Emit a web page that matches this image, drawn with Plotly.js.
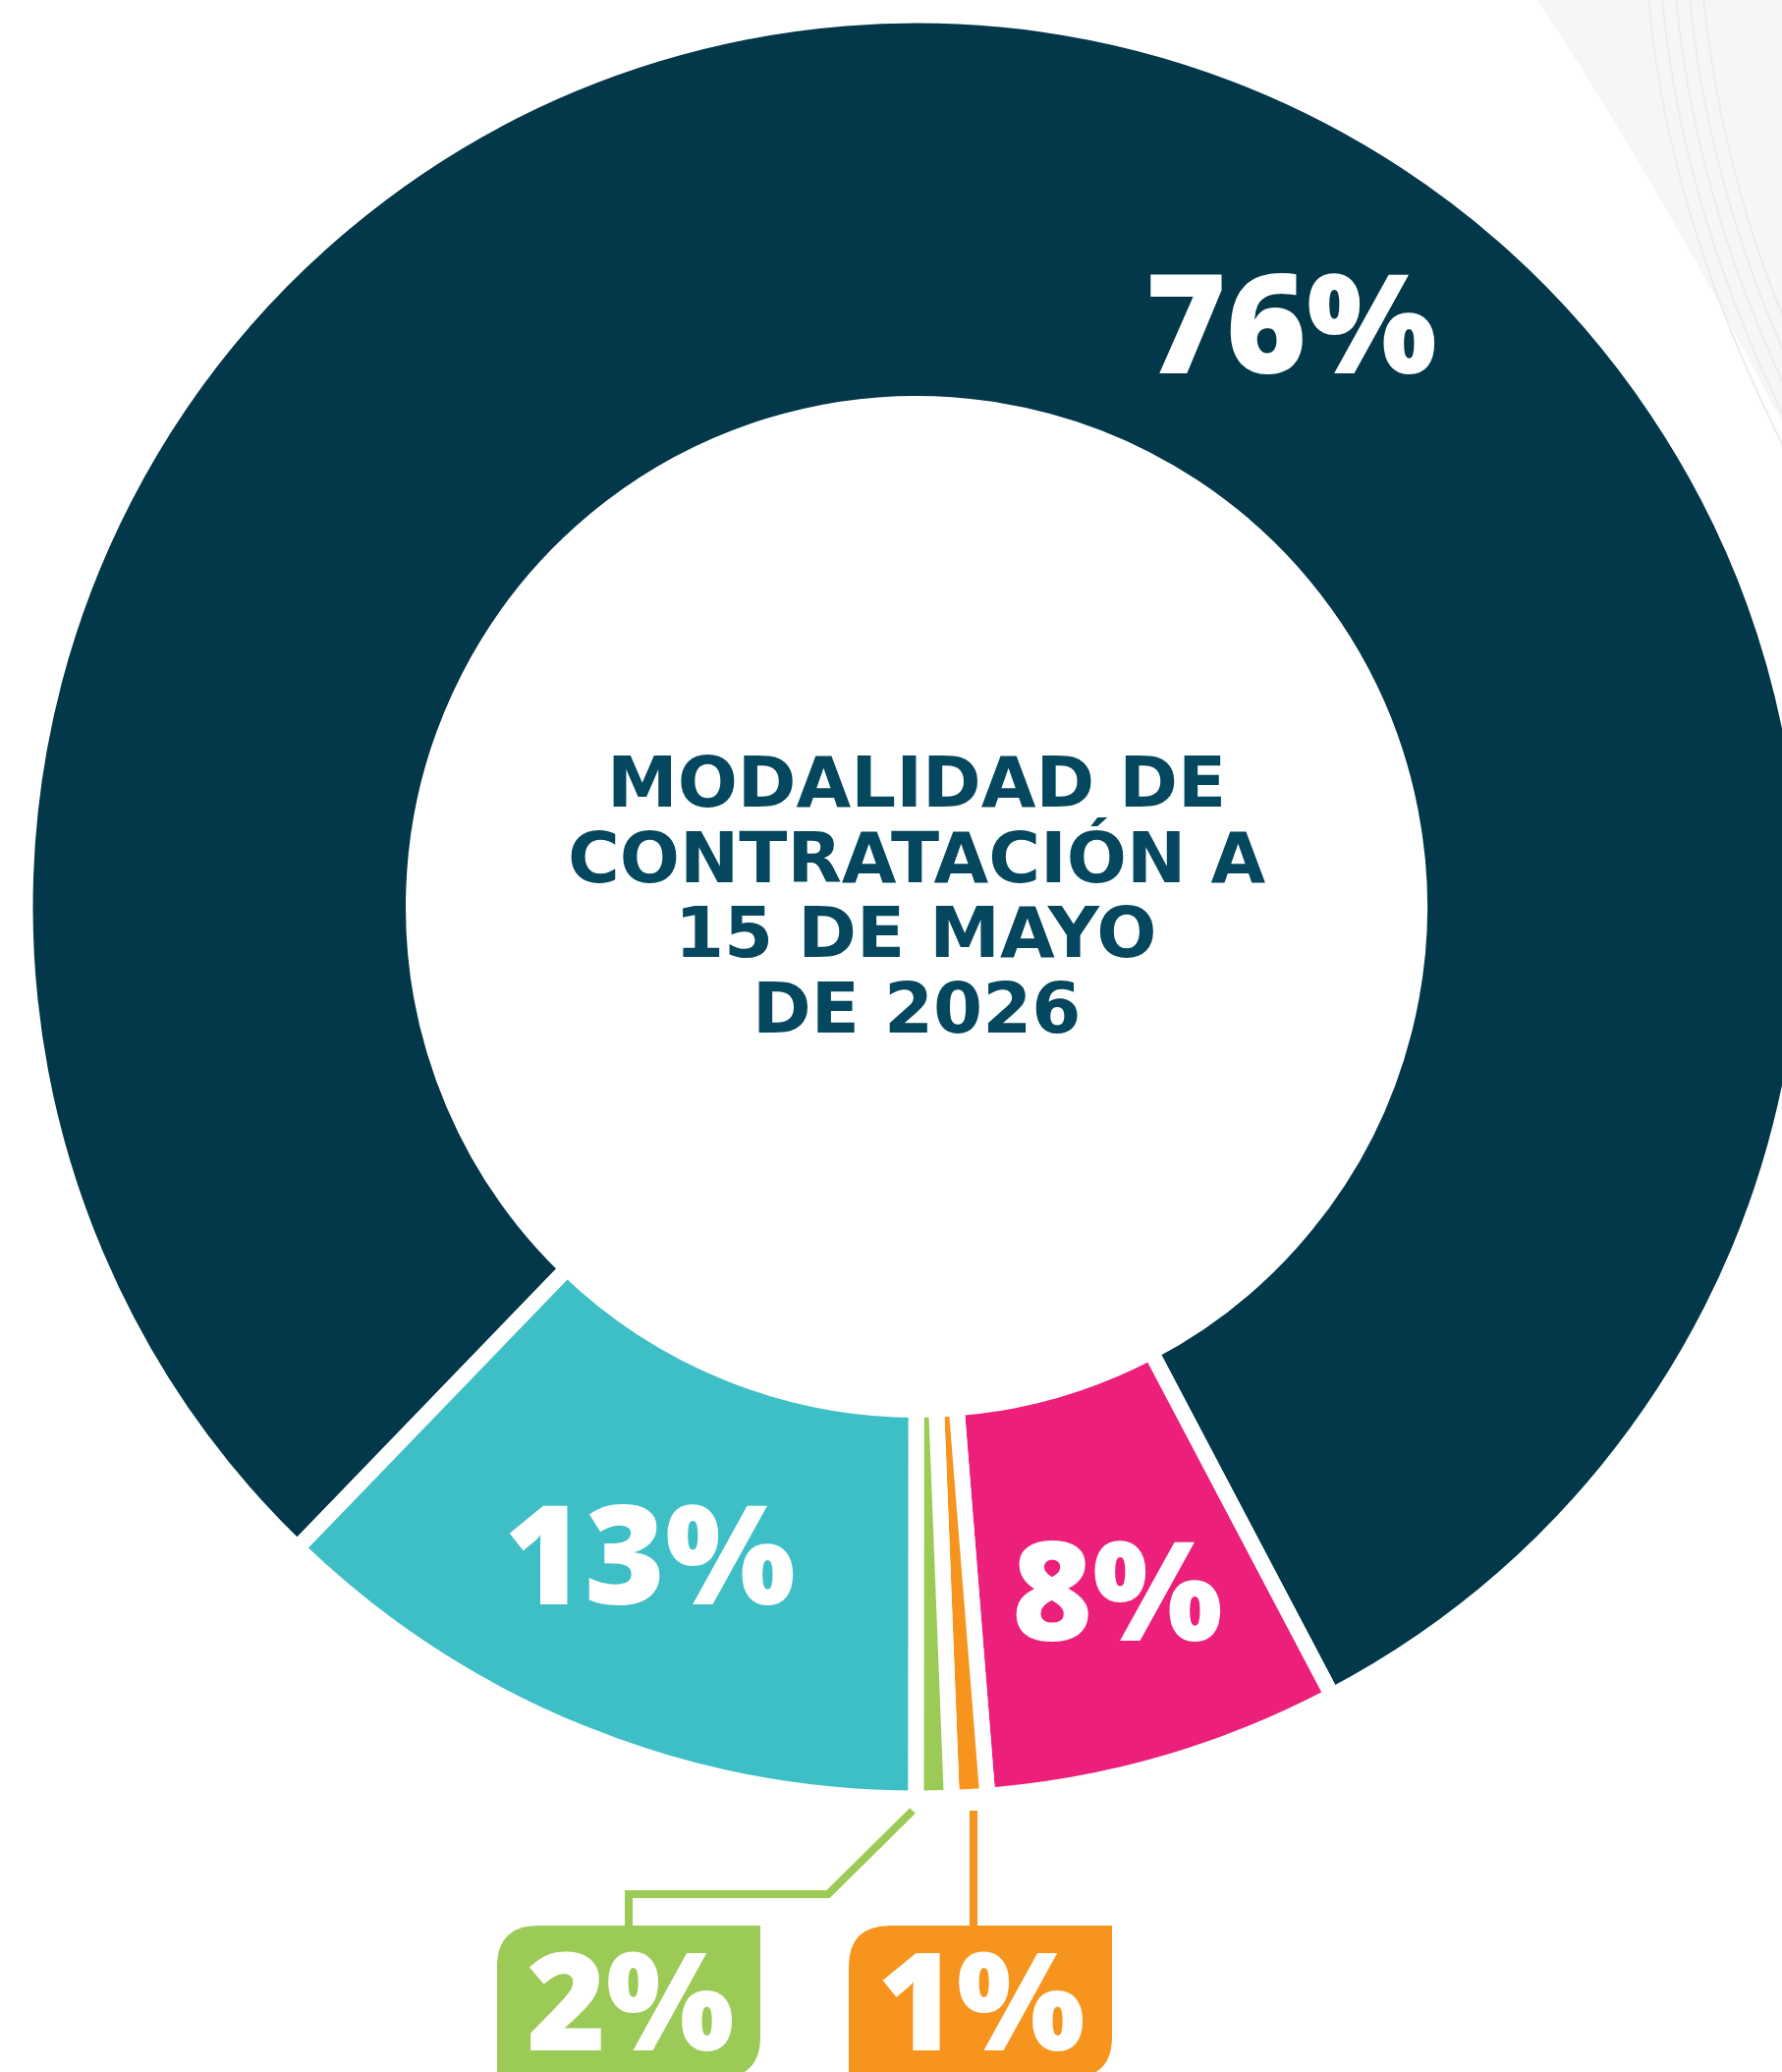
<!DOCTYPE html>
<html><head><meta charset="utf-8">
<script src="https://cdn.plot.ly/plotly-3.0.1.min.js"></script>
<style>html,body{margin:0;padding:0;overflow:hidden;background:#fff}#chart{width:1850px;height:2109px}</style>
</head><body><div id="chart"></div>
<script>
// ---------------- data ----------------
// slices in clockwise order, starting at the dark slice
const printedLabels = ['76%', '8%', '1%', '2%', '13%'];
const printedValues = [76, 8, 1, 2, 13];
// share of the ring as drawn in the picture
const ringShare = [80.06, 6.45, 0.64, 0.64, 12.21];
const centerTitleLines = ['MODALIDAD DE', 'CONTRATACIÓN A', '15 DE MAYO', 'DE 2026'];

// ---------------- style / layout ----------------
const W = 1850, H = 2109;
const X = v => v / W, Y = v => 1 - v / H;
const sliceColors = ['#02384a', '#ec1f7b', '#f7941e', '#9bca57', '#3ebfc6'];
const ring = {cx: 933, cy: 923, rOuter: 907.5, rInner: 512, gap: 16, startDeg: 224};
const bigFont = {family: 'Open Sans, Lato, sans-serif', weight: 800, color: '#ffffff'};
const titleColor = '#04475e';

// label placement (pixel centres of the printed text)
const labelPos = {
  '76%': {x: 1314, y: 326, size: 140},
  '8%':  {x: 1137, y: 1615, size: 140},
  '13%': {x: 661,  y: 1578, size: 140},
  '2%':  {x: 642,  y: 2033, size: 138, box: {x0: 506, x1: 774}, leader: [[929,1843],[843,1928],[640,1928],[640,1962]]},
  '1%':  {x: 999,  y: 2033, size: 138, box: {x0: 864, x1: 1132}, leader: [[991,1843],[991,1962]]}
};
const boxTop = 1960, boxBottom = 2115, boxR = 42;
const titleLineY = [795.5, 872.5, 949, 1025.5];

const trace = {
  type: 'pie',
  labels: printedLabels,
  values: ringShare,
  customdata: printedValues,
  sort: false,
  direction: 'clockwise',
  rotation: ring.startDeg,
  hole: ring.rInner / ring.rOuter,
  marker: {colors: sliceColors, line: {color: '#ffffff', width: ring.gap}},
  textinfo: 'none',
  hoverinfo: 'none',
  domain: {
    x: [X(ring.cx - ring.rOuter), X(ring.cx + ring.rOuter)],
    y: [Y(ring.cy + ring.rOuter), Y(ring.cy - ring.rOuter)]
  }
};

const annotations = [];
const shapes = [];

// background decoration (top-right corner swoosh)
shapes.push({
  type: 'path', xref: 'paper', yref: 'paper', layer: 'below',
  path: `M ${X(1563)},${Y(-2)} Q ${X(1690)},${Y(185)} ${X(1850)},${Y(500)} L ${X(1850)},${Y(-2)} Z`,
  fillcolor: '#f5f6f6', line: {width: 0}
});
[[1678,1700,250,520],[1692,1714,240,490],[1706,1728,230,460],[1720,1742,220,430],[1734,1756,210,400]].forEach(a => {
  shapes.push({
    type: 'path', xref: 'paper', yref: 'paper', layer: 'below',
    path: `M ${X(a[0])},${Y(-2)} Q ${X(a[1])},${Y(a[2])} ${X(1850)},${Y(a[3])}`,
    line: {color: '#ebeded', width: 2}
  });
});

printedLabels.forEach((lab, i) => {
  const p = labelPos[lab];
  if (p.box) {
    const c = sliceColors[i];
    const pts = p.leader.map((q, k) => (k ? 'L ' : 'M ') + X(q[0]) + ',' + Y(q[1])).join(' ');
    shapes.push({type: 'path', xref: 'paper', yref: 'paper', path: pts, line: {color: c, width: 8}});
    const b = p.box, r = boxR;
    shapes.push({
      type: 'path', xref: 'paper', yref: 'paper',
      path: `M ${X(b.x0)},${Y(boxTop + r)} Q ${X(b.x0)},${Y(boxTop)} ${X(b.x0 + r)},${Y(boxTop)} L ${X(b.x1)},${Y(boxTop)} L ${X(b.x1)},${Y(boxBottom - r)} Q ${X(b.x1)},${Y(boxBottom)} ${X(b.x1 - r)},${Y(boxBottom)} L ${X(b.x0)},${Y(boxBottom)} Z`,
      fillcolor: c, line: {width: 0}
    });
  }
  annotations.push({
    xref: 'paper', yref: 'paper', x: X(p.x), y: Y(p.y),
    xanchor: 'center', yanchor: 'middle', showarrow: false,
    text: printedValues[i] + '%',
    font: Object.assign({}, bigFont, {size: p.size})
  });
});

centerTitleLines.forEach((t, k) => {
  annotations.push({
    xref: 'paper', yref: 'paper', x: X(ring.cx), y: Y(titleLineY[k]),
    xanchor: 'center', yanchor: 'middle', showarrow: false,
    text: t,
    font: {family: 'DejaVu Sans, Open Sans, sans-serif', weight: 700, size: 72, color: titleColor}
  });
});

const layout = {
  width: W, height: H,
  margin: {l: 0, r: 0, t: 0, b: 0, pad: 0},
  paper_bgcolor: '#ffffff', plot_bgcolor: '#ffffff',
  showlegend: false,
  shapes: shapes,
  annotations: annotations
};

Plotly.newPlot('chart', [trace], layout, {staticPlot: true, displayModeBar: false});
</script>
</body></html>
